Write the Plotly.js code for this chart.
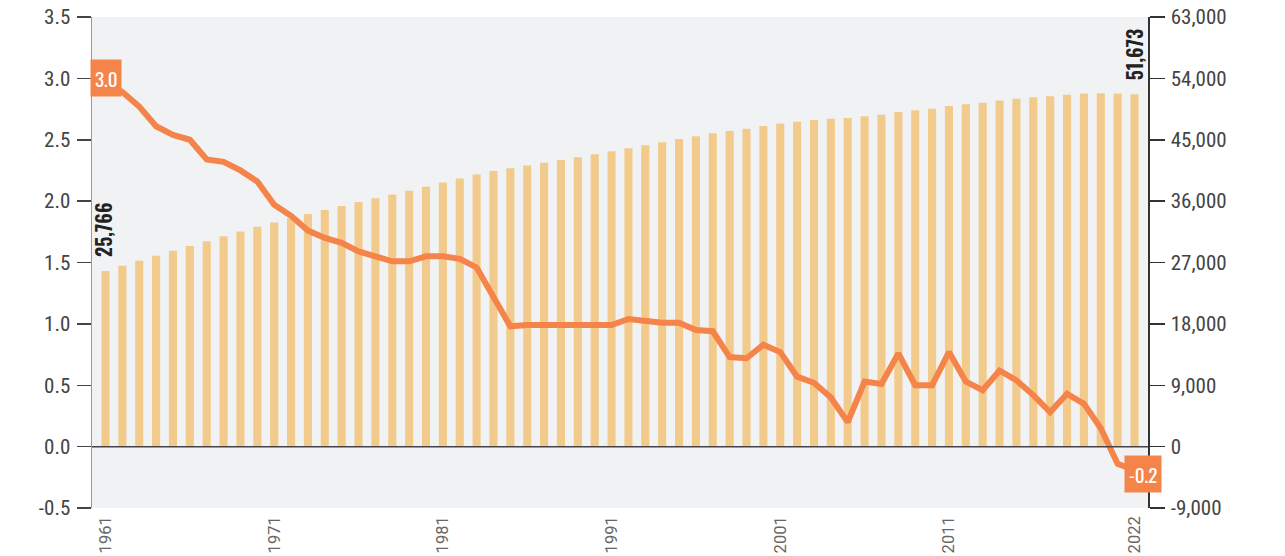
<!DOCTYPE html>
<html><head><meta charset="utf-8">
<script src="https://cdn.plot.ly/plotly-3.0.1.min.js"></script>
<style>body{margin:0;background:#fff}#c{width:1285px;height:556px}</style>
</head><body><div id="c"></div>
<script>
const years = [];
for (let y = 1961; y <= 2022; y++) years.push(String(y));
const population = [25766,26513,27262,27984,28705,29436,30131,30838,31544,32241,
32883,33505,34103,34692,35281,35860,36412,36969,37534,38124,
38723,39326,39910,40406,40806,41214,41622,42031,42449,42869,
43296,43748,44195,44642,45093,45525,45954,46287,46617,47008,
47370,47645,47892,48083,48185,48438,48684,49055,49308,49554,
49937,50200,50429,50747,51015,51218,51362,51585,51765,51836,
51770,51673];
const growth = [2.96,2.89,2.77,2.61,2.54,2.50,2.34,2.32,2.25,2.16,
1.97,1.88,1.76,1.70,1.66,1.59,1.55,1.51,1.51,1.55,
1.55,1.53,1.46,1.22,0.98,0.99,0.99,0.98,0.99,0.99,
0.99,1.04,1.02,1.01,1.01,0.95,0.94,0.73,0.72,0.83,
0.77,0.57,0.52,0.40,0.20,0.53,0.51,0.76,0.50,0.50,
0.77,0.53,0.46,0.62,0.54,0.42,0.28,0.43,0.35,0.15,
-0.14,-0.19];
const xTicks = ['1961','1971','1981','1991','2001','2011','2022'];
const leftTickVals = [-0.5,0,0.5,1,1.5,2,2.5,3,3.5];
const leftTickText = ['-0.5','0.0','0.5','1.0','1.5','2.0','2.5','3.0','3.5'];
const rightTickVals = [-9000,0,9000,18000,27000,36000,45000,54000,63000];
const rightTickText = ['-9,000','0','9,000','18,000','27,000','36,000','45,000','54,000','63,000'];
const growthLabels = {first: '3.0', last: '-0.2'};
const growthLabelValues = [3.0, -0.2];

const COND = '"Roboto Condensed", "DejaVu Sans Condensed", sans-serif';
const OSW = 'Oswald, "Roboto Condensed", sans-serif';
const ORANGE = '#f5844a';
const last = years.length - 1;

const traces = [
  {type:'bar', x: years, y: population, yaxis:'y', marker:{color:'#f2cb8c'}, width:0.48, hoverinfo:'skip'},
  {type:'scatter', mode:'lines', x: years, y: growth, yaxis:'y2', line:{color:ORANGE, width:6, shape:'linear'}, hoverinfo:'skip'}
];

const layout = {
  width:1285, height:556,
  margin:{l:92, r:137, t:17, b:48},
  paper_bgcolor:'#ffffff', plot_bgcolor:'#f1f2f4',
  showlegend:false,
  xaxis:{type:'category', range:[-0.8, 61.8], tickmode:'array', tickvals:xTicks, ticktext:xTicks,
    tickangle:-90, ticks:'', showgrid:false, zeroline:false, showline:false,
    ticklabelstandoff:4,
    tickfont:{family:'Roboto, "Liberation Sans", sans-serif', size:16.5, color:'#666'}},
  yaxis:{side:'right', range:[-9000,63000], tickmode:'array', tickvals:rightTickVals, ticktext:rightTickText,
    showgrid:false, zeroline:false, showline:true, linecolor:'#333', linewidth:1.5,
    ticks:'outside', ticklen:15, tickcolor:'#333', tickwidth:1.5, ticklabelstandoff:2,
    tickfont:{family:COND, size:21, color:'#444'}},
  yaxis2:{side:'left', overlaying:'y', range:[-0.5,3.5], tickmode:'array', tickvals:leftTickVals, ticktext:leftTickText,
    showgrid:false, zeroline:false, showline:true, linecolor:'#999', linewidth:1.5,
    ticks:'outside', ticklen:14, tickcolor:'#444', tickwidth:1.5, ticklabelstandoff:2,
    tickfont:{family:COND, size:21, color:'#444'}},
  shapes:[
    {type:'line', xref:'paper', yref:'y2', x0:0, x1:1, y0:0, y1:0, line:{color:'#444', width:1.5}, layer:'above'}
  ],
  annotations:[
    {x:0, y:population[0], xref:'x', yref:'y', text:population[0].toLocaleString('en-US'), textangle:-90,
      showarrow:false, yanchor:'bottom', yshift:12, xshift:-2, font:{family:OSW, size:20, color:'#222', weight:600}},
    {x:last, y:population[last], xref:'x', yref:'y', text:population[last].toLocaleString('en-US'), textangle:-90,
      showarrow:false, yanchor:'bottom', yshift:12, xshift:-1, font:{family:OSW, size:20, color:'#222', weight:600}},
    {x:0, y:growthLabelValues[0], xref:'x', yref:'y2', text:growthLabels.first, showarrow:false,
      bgcolor:ORANGE, borderpad:4, font:{family:OSW, size:19, color:'#fff', weight:400}},
    {x:last, y:growthLabelValues[1], xref:'x', yref:'y2', text:growthLabels.last, showarrow:false, xshift:8, yshift:-3,
      bgcolor:ORANGE, borderpad:4, font:{family:OSW, size:19, color:'#fff', weight:400}}
  ]
};
Plotly.newPlot('c', traces, layout, {staticPlot:true});
</script></body></html>
